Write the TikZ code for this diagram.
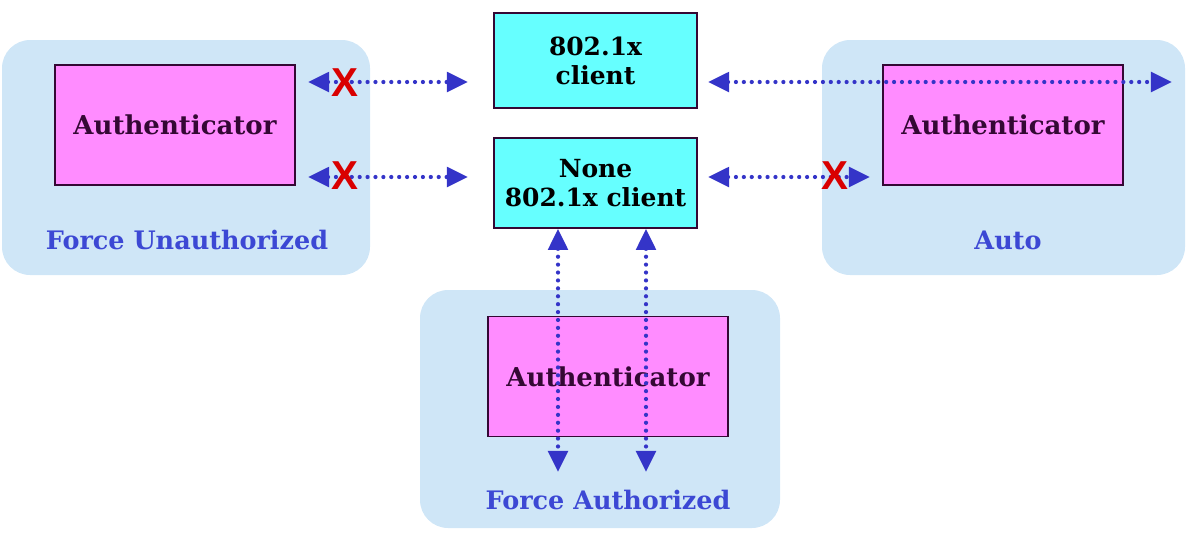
\documentclass[tikz,border=0pt]{standalone}
\usepackage{fontspec}
\setmainfont{DejaVu Serif}
\newfontfamily\crossfont{Liberation Sans}
\usetikzlibrary{arrows.meta}

\definecolor{panelblue}{RGB}{207,230,247}
\definecolor{authpink}{RGB}{255,140,255}
\definecolor{clientcyan}{RGB}{102,255,255}
\definecolor{linkblue}{RGB}{52,52,200}
\definecolor{labelblue}{RGB}{60,72,212}
\definecolor{textdark}{RGB}{52,8,52}

\tikzset{
  panel/.style={fill=panelblue, rounded corners=16pt},
  authbox/.style={draw=textdark, line width=0.9pt, fill=authpink,
                  minimum width=4.8cm, minimum height=2.4cm, text=textdark,
                  font=\bfseries\fontsize{14.8}{17}\selectfont},
  clientbox/.style={draw=textdark, line width=0.9pt, fill=clientcyan,
                    minimum width=4.06cm, align=center, text=black,
                    font=\bfseries\fontsize{14.2}{16.5}\selectfont},
  modelabel/.style={text=labelblue, font=\bfseries\fontsize{14.5}{16}\selectfont},
  link/.style={linkblue, line width=2.4pt, dash pattern=on 0pt off 4.5pt,
               line cap=round,
               {Triangle[length=12pt,width=11pt]}-{Triangle[length=12pt,width=11pt]}},
  cross/.style={text=red!85!black, inner sep=0pt,
                font=\crossfont\fontsize{23}{23}\selectfont}
}

\begin{document}
\begin{tikzpicture}[x=0.02cm, y=-0.02cm]
  \useasboundingbox (0,0) rectangle (1187,532);

  % the three port modes
  \fill[panel] (2,40) rectangle (370,275);
  \fill[panel] (822,40) rectangle (1185,275);
  \fill[panel] (420,290) rectangle (780,528);

  \node[authbox] (authL) at (175,125) {Authenticator};
  \node[authbox] (authR) at (1003,125) {Authenticator};
  \node[authbox] (authB) at (608,376.5) {Authenticator};

  \node[modelabel] (modeL) at (187,240) {Force Unauthorized};
  \node[modelabel] (modeR) at (1008,240) {Auto};
  \node[modelabel] (modeB) at (608,500) {Force Authorized};

  % clients
  \node[clientbox, minimum height=1.9cm] (client) at (595.5,60.5) {802.1x\\client};
  \node[clientbox, minimum height=1.8cm] (none) at (595.5,183) {None\\802.1x client};

  % end points of the links
  \coordinate (a1) at (308,82);  \coordinate (b1) at (468,82);
  \coordinate (a2) at (308,177); \coordinate (b2) at (468,177);
  \coordinate (c1) at (708,82);  \coordinate (d1) at (1172,82);
  \coordinate (c2) at (708,177); \coordinate (d2) at (870,177);
  \coordinate (v1) at (558,472); \coordinate (v2) at (646,472);

  \draw[link] (a1) -- (b1);
  \draw[link] (a2) -- (b2);
  \draw[link] (c1) -- (d1);
  \draw[link] (c2) -- (d2);
  \draw[link] (none.south -| v1) -- (v1);
  \draw[link] (none.south -| v2) -- (v2);

  % blocked links
  \node[cross] (x1) at (345,83) {\bfseries X};
  \node[cross] (x2) at (345,176) {\bfseries X};
  \node[cross] (x3) at (835,176) {\bfseries X};
\end{tikzpicture}
\end{document}
